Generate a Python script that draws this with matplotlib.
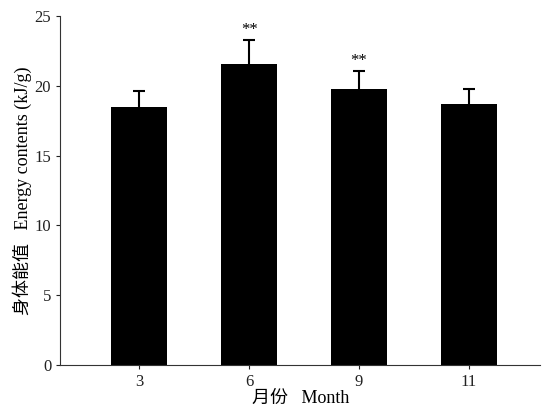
import matplotlib
matplotlib.use("Agg")
import matplotlib.pyplot as plt
import numpy as np

months = ["3", "6", "9", "11"]
energy = [18.5, 21.6, 19.75, 18.7]
energy_sd = [1.1, 1.7, 1.3, 1.05]
marks = ["", "**", "**", ""]

plt.rcParams["font.family"] = ["Liberation Serif", "Noto Sans CJK SC"]

fig = plt.figure(figsize=(5.42, 4.12), dpi=100)
ax = fig.add_axes([0.111, 0.114, 0.886, 0.847])

x = np.arange(len(months))
tops = np.array(energy) + np.array(energy_sd)
ax.vlines(x, energy, tops, color="black", linewidth=1.5, zorder=1)
ax.plot(x, tops, linestyle="none", marker="_", markersize=9,
        markeredgewidth=1.5, color="black", zorder=1)
ax.bar(x, energy, width=0.51, color="black", zorder=2)
for xi, t, m in zip(x, tops, marks):
    if m:
        ax.text(xi, t + 0.15, m, ha="center", va="bottom", fontsize=12)

ax.set_xlim(-0.72, 3.65)
ax.set_ylim(0, 25)
ax.set_yticks([0, 5, 10, 15, 20, 25])
ax.set_xticks(x)
ax.set_xticklabels(months)
ax.tick_params(axis="both", labelsize=12, length=3, width=0.8, direction="out",
               colors="#222222")
ax.spines["top"].set_visible(False)
ax.spines["right"].set_visible(False)
for sp in ["left", "bottom"]:
    ax.spines[sp].set_linewidth(0.8)
    ax.spines[sp].set_color("#333333")

ax.set_xlabel("月份   Month", fontsize=13, labelpad=0)
ax.set_ylabel("身体能值   Energy contents (kJ/g)", fontsize=13, labelpad=2)

fig.savefig("out.png", dpi=100)
